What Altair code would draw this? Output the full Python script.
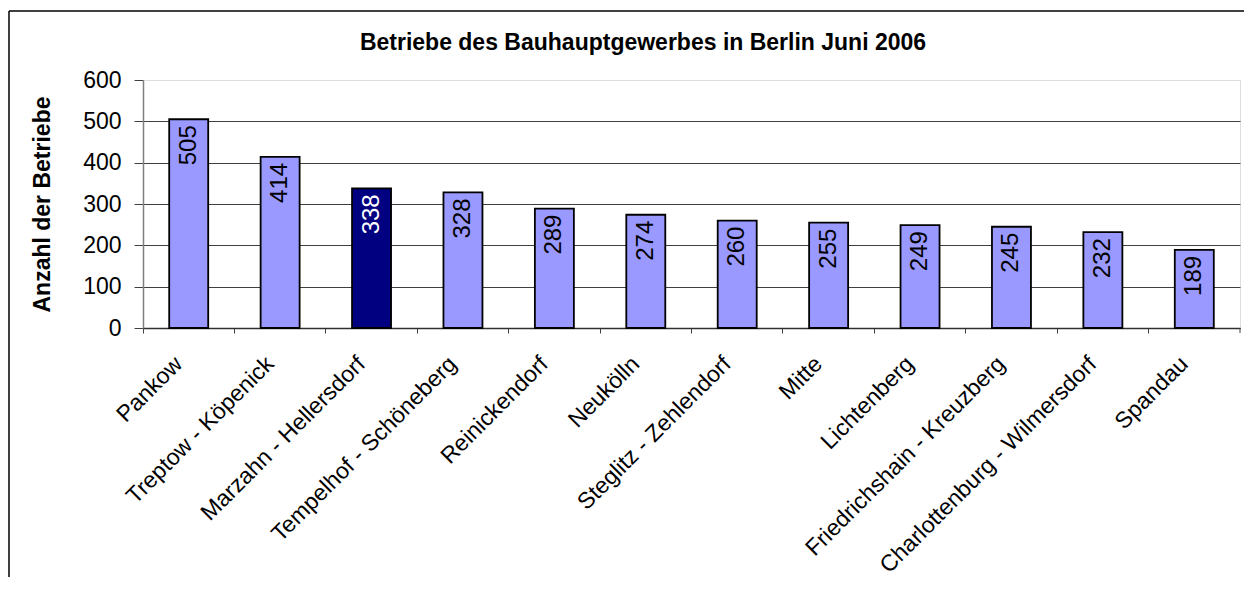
import altair as alt
import pandas as pd

bezirke = [
    "Pankow", "Treptow - Köpenick", "Marzahn - Hellersdorf", "Tempelhof - Schöneberg",
    "Reinickendorf", "Neukölln", "Steglitz - Zehlendorf", "Mitte", "Lichtenberg",
    "Friedrichshain - Kreuzberg", "Charlottenburg - Wilmersdorf", "Spandau",
]
betriebe = [505, 414, 338, 328, 289, 274, 260, 255, 249, 245, 232, 189]
y_ticks = [0, 100, 200, 300, 400, 500, 600]
highlight = "Marzahn - Hellersdorf"
chart_title = "Betriebe des Bauhauptgewerbes in Berlin Juni 2006"
y_title = "Anzahl der Betriebe"

df = pd.DataFrame({"Bezirk": bezirke, "Betriebe": betriebe})
one = pd.DataFrame({"k": [0]})

W, H = 1097, 248
FONT = "Liberation Sans"

x_enc = alt.X(
    "Bezirk:N", sort=bezirke,
    scale=alt.Scale(paddingInner=0, paddingOuter=0),
    axis=alt.Axis(
        title=None, bandPosition=0, labelAngle=-45, labelAlign="right",
        labelBaseline="middle", labelOffset=-10, labelPadding=27, labelFontSize=23,
        labelFont=FONT, labelColor="black", labelLimit=500,
        tickSize=5, tickColor="#404040", domainColor="#303030", domainWidth=1.5,
        grid=False,
    ),
)
y_enc = alt.Y(
    "Betriebe:Q",
    scale=alt.Scale(domain=[0, 600], nice=False),
    axis=alt.Axis(
        values=y_ticks, title=y_title, titleFont=FONT, titleFontSize=23,
        titleFontWeight="bold", titleColor="black", titlePadding=28,
        labelFont=FONT, labelFontSize=23, labelColor="black", labelPadding=13,
        tickSize=9, tickColor="#404040", domainColor="#808080", domainWidth=1.5,
        grid=True, gridColor="#404040", gridWidth=1.2,
        gridOpacity={"condition": {"test": "datum.value === 600", "value": 0}, "value": 1},
    ),
)

is_hl = alt.datum.Bezirk == highlight

bars = alt.Chart(df).mark_bar(width=39, stroke="black", strokeWidth=1.8).encode(
    x=x_enc, y=y_enc,
    fill=alt.condition(is_hl, alt.value("#000080"), alt.value("#9999FF")),
)
labels = alt.Chart(df).mark_text(
    angle=270, align="right", baseline="middle", dx=-6, fontSize=24, font=FONT
).encode(
    x=alt.X("Bezirk:N", sort=bezirke),
    y=alt.Y("Betriebe:Q"),
    text="Betriebe:Q",
    color=alt.condition(is_hl, alt.value("white"), alt.value("black")),
)
title_text = alt.Chart(one).mark_text(
    font=FONT, fontSize=23, fontWeight="bold", color="black",
    align="center", baseline="alphabetic",
).encode(x=alt.value(500), y=alt.value(-30), text=alt.value(chart_title))
end_tick = alt.Chart(one).mark_rule(color="#404040").encode(
    x=alt.value(W), y=alt.value(H), y2=alt.value(H + 5)
)
frame_top = alt.Chart(one).mark_rule(color="black", strokeWidth=1.5).encode(
    x=alt.value(-134), x2=alt.value(W + 20), y=alt.value(-69)
)
frame_left = alt.Chart(one).mark_rule(color="black", strokeWidth=1.5).encode(
    x=alt.value(-134), y=alt.value(-69), y2=alt.value(H + 400)
)

chart = alt.layer(bars, labels, title_text, end_tick, frame_top, frame_left).properties(
    width=W, height=H,
    autosize=alt.AutoSizeParams(type="none"),
    padding={"left": 135, "top": 72, "right": 4, "bottom": 249},
).configure_view(
    fill="#C0C0C0", stroke="#808080", strokeWidth=1.5
).configure(background="white")

chart.save("out.html", embed_options={"renderer": "svg", "actions": False})
